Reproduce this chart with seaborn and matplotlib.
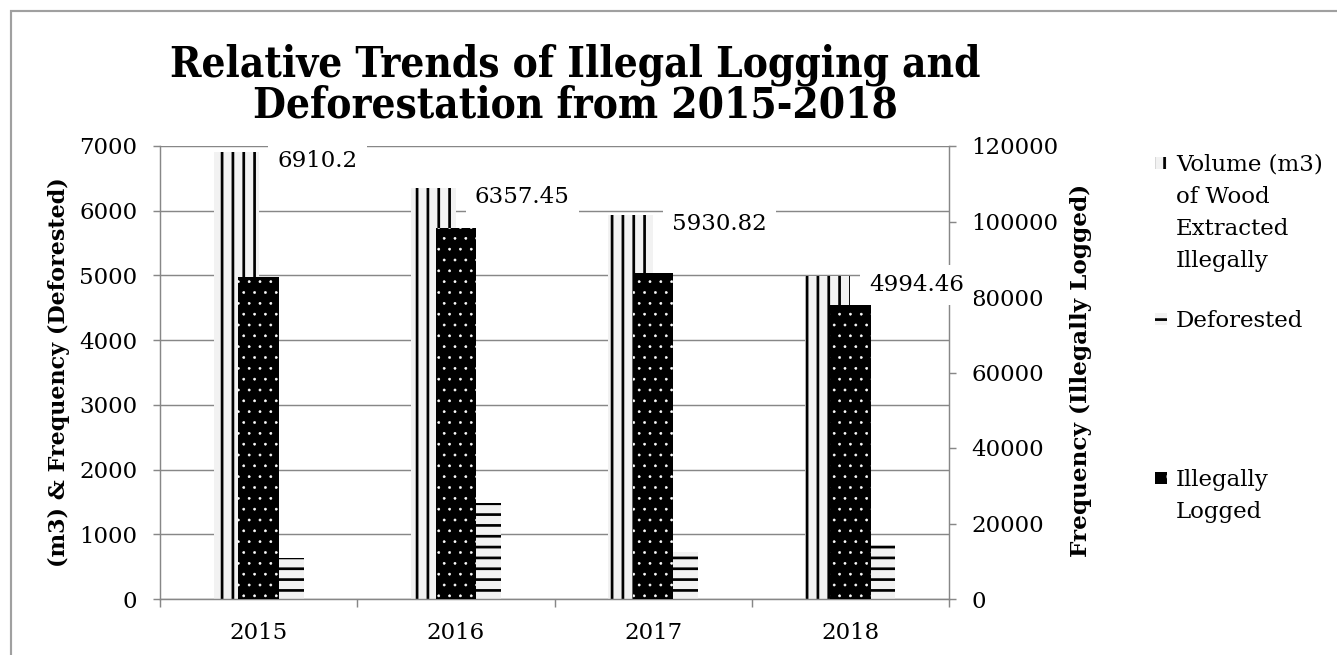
import numpy as np
import pandas as pd
import seaborn as sns
import matplotlib.pyplot as plt
from matplotlib.patches import Rectangle

# data
years = ['2015', '2016', '2017', '2018']
volume = [6910.2, 6357.45, 5930.82, 4994.46]      # left axis
deforested = [640, 1490, 730, 835]                 # left axis
logged = [85400, 98300, 86300, 77900]              # right axis

series_names = ['Volume (m3)\nof Wood\nExtracted\nIllegally', 'Deforested', 'Illegally\nLogged']
title_lines = ['Relative Trends of Illegal Logging and', 'Deforestation from 2015-2018']
left_label = '(m3) & Frequency (Deforested)'
right_label = 'Frequency (Illegally Logged)'

DPI = 130
W, H = 1337, 655
GRAY = '#878787'
FS = 12.7

sns.set_theme(style='white')
plt.rcParams['font.family'] = ['DejaVu Serif']
plt.rcParams['hatch.linewidth'] = 1.5
plt.rcParams['text.color'] = 'black'
plt.rcParams['axes.labelcolor'] = 'black'


def px(x, y):
    # pixel position -> figure fraction
    return x / W, 1 - y / H


df = pd.DataFrame({'year': years * 2,
                   'series': ['vol'] * 4 + ['def'] * 4,
                   'value': volume + deforested})

fig = plt.figure(figsize=(W / DPI, H / DPI), dpi=DPI)
ax = fig.add_axes([160 / W, 1 - 599 / H, 789 / W, 453 / H])
sns.barplot(data=df, x='year', y='value', hue='series', order=years,
            hue_order=['vol', 'def'], palette=['#f2f2f2', '#f2f2f2'],
            width=0.457, saturation=1, legend=False, ax=ax)
ax2 = ax.twinx()
sns.barplot(x=years, y=logged, order=years, color='black', width=0.205,
            saturation=1, ax=ax2)


def set_hlw(p, lw):
    if hasattr(p, 'set_hatch_linewidth'):
        p.set_hatch_linewidth(lw)


for p in ax.containers[0]:
    p.set_hatch('||'); p.set_edgecolor('black'); p.set_linewidth(0)
for p in ax.containers[1]:
    p.set_hatch('--'); p.set_edgecolor('black'); p.set_linewidth(0)
for p in ax2.containers[0]:
    p.set_facecolor('black'); p.set_edgecolor('white'); p.set_linewidth(0)
    p.set_hatch('..'); set_hlw(p, 0.3)

# axes
ax.set_xlim(-0.5, 3.5)
ax.set_ylim(0, 7000)
ax.set_yticks(range(0, 7001, 1000))
ax2.set_ylim(0, 120000)
ax2.set_yticks(range(0, 120001, 20000))
ax.set_xticks(range(4))
ax.set_xticklabels(years)
ax.set_xticks([-0.5, 0.5, 1.5, 2.5, 3.5], minor=True)
ax.yaxis.grid(True, color=GRAY, lw=0.8)
ax.set_axisbelow(True)

ax.tick_params(axis='x', which='major', length=0, pad=13, labelsize=FS, labelcolor='black')
ax.tick_params(axis='x', which='minor', bottom=True, length=4.2, width=0.8,
               color=GRAY, direction='out')
ax.tick_params(axis='y', left=True, length=4, width=0.8, color=GRAY,
               direction='out', pad=8.5, labelsize=FS, labelcolor='black')
ax2.tick_params(axis='y', right=True, length=4, width=0.8, color=GRAY,
                direction='out', pad=8.5, labelsize=FS, labelcolor='black')

for s in ['top', 'right']:
    ax.spines[s].set_visible(False)
for s in ['left', 'bottom']:
    ax.spines[s].set_color(GRAY); ax.spines[s].set_linewidth(0.8)
for s in ['top', 'left', 'bottom']:
    ax2.spines[s].set_visible(False)
ax2.spines['right'].set_color(GRAY); ax2.spines['right'].set_linewidth(0.8)

ax.set_xlabel('')
ax.set_ylabel(left_label, fontsize=12.3, fontweight='bold', color='black')
ax.yaxis.set_label_coords(-0.114, 0.5)
ax2.set_ylabel(right_label, fontsize=12.8, fontweight='bold', color='black')
ax2.yaxis.set_label_coords(1.153, 0.505)

# data labels for volume bars
for p, v in zip(ax.containers[0], volume):
    ax2.annotate(str(v), xy=(p.get_x() + p.get_width(), v), xycoords=ax.transData,
                 xytext=(19, -9), textcoords='offset pixels', ha='left', va='center',
                 fontsize=FS, annotation_clip=False, zorder=6,
                 bbox=dict(boxstyle='square,pad=0.4', fc='white', ec='none'))

# title
for line, yb in zip(title_lines, [77, 118]):
    fig.text(*px(575, yb), line, ha='center', va='baseline', fontsize=23.3,
             fontweight='bold', fontstretch='condensed')

# legend, drawn by hand
handle_styles = [dict(facecolor='#f2f2f2', edgecolor='black', hatch='||', lw=0),
                 dict(facecolor='#f2f2f2', edgecolor='black', hatch='--', lw=0),
                 dict(facecolor='black', edgecolor='white', hatch='.', lw=0)]
legend_mid = [163, 319, 478]
for name, yc, st in zip(series_names, legend_mid, handle_styles):
    r = Rectangle(px(1155, yc + 6), 12 / W, 12 / H, transform=fig.transFigure, **st)
    fig.add_artist(r)
    fig.text(*px(1176, yc - 9), name, ha='left', va='top', fontsize=FS, linespacing=1.58)

# outer frame
fig.add_artist(Rectangle(px(11, 700), 1.2, (700 - 10.7) / H, transform=fig.transFigure,
                         fill=False, edgecolor='#a0a0a0', lw=1.2))

fig.savefig('out.png', dpi=DPI)
